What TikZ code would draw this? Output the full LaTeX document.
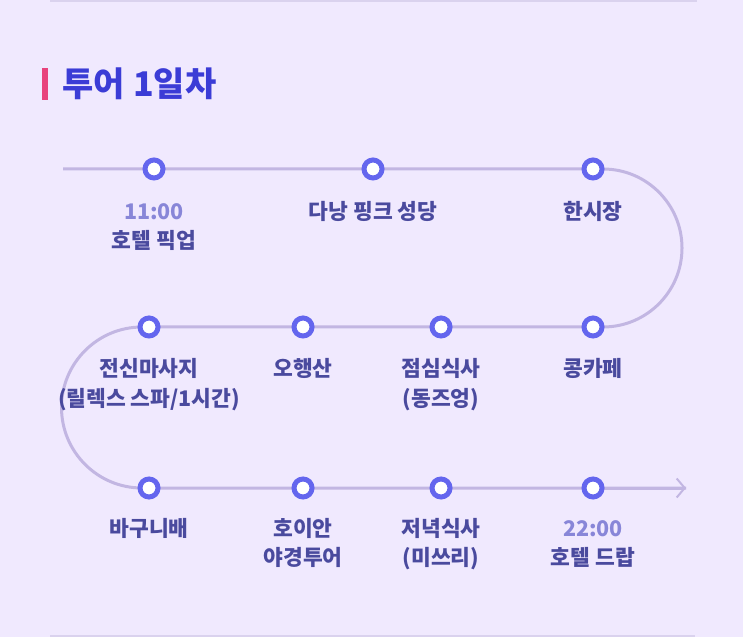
\documentclass[tikz,border=0pt]{standalone}
\usepackage{fontspec}
\setmainfont{Noto Sans CJK KR}
\usetikzlibrary{arrows.meta}
\definecolor{bgc}{HTML}{F0E9FE}
\definecolor{sepc}{HTML}{DAD2EE}
\definecolor{trackc}{HTML}{C2B6E2}
\definecolor{dotc}{HTML}{6466EE}
\definecolor{titlec}{HTML}{3B3CD6}
\definecolor{barc}{HTML}{E8427C}
\definecolor{labc}{HTML}{4A4A9E}
\definecolor{timec}{HTML}{8886D8}
\tikzset{
  track/.style={draw=trackc, line width=3pt},
  dot/.style={circle, draw=dotc, line width=5pt, fill=white, minimum size=18pt, inner sep=0pt},
  lab/.style={anchor=base, align=center, inner sep=0pt, text=labc, font=\fontsize{21.5}{29.5}\selectfont\bfseries},
  sep/.style={draw=sepc, line width=1.5pt}
}
\newcommand{\tm}[1]{{\color{timec}\bfseries\fontsize{21.5}{29.5}\selectfont #1}}
\begin{document}
\begin{tikzpicture}[x=1pt,y=1pt]
\fill[bgc] (0,0) rectangle (743,637);
\useasboundingbox (0,0) rectangle (743,637);
\coordinate (topl) at (50,636.2);
\coordinate (topr) at (697,636.2);
\coordinate (botl) at (50,0.8);
\coordinate (botr) at (695,0.8);
\draw[sep] (topl) -- (topr);
\draw[sep] (botl) -- (botr);
% title
\fill[barc] (42,537) rectangle (48,569);
\node[anchor=west, inner sep=0pt, text=titlec, font=\fontsize{34}{34}\selectfont\bfseries] (title) at (62.5,553) {투어 1일차};
% track coordinates
\coordinate (start) at (63,468);
\coordinate (a1) at (154,468);
\coordinate (a2) at (373,468);
\coordinate (a3) at (593,468);
\coordinate (ra) at (603,468);
\coordinate (b4) at (593,310);
\coordinate (b3) at (441,310);
\coordinate (b2) at (303,310);
\coordinate (b1) at (149,310);
\coordinate (la) at (142,310);
\coordinate (c1) at (149,149);
\coordinate (c2) at (303,149);
\coordinate (c3) at (441,149);
\coordinate (c4) at (593,149);
\coordinate (end) at (686,149);
\draw[track] (start) -- (ra) arc[start angle=90, end angle=-90, radius=79]
  -- (la) arc[start angle=90, end angle=270, radius=80.5] -- (end);
\draw[track, -{Straight Barb[length=8pt,width=19pt,line width=2pt]}] (c4) -- (end);
% dots
\foreach \p in {a1,a2,a3,b1,b2,b3,b4,c1,c2,c3,c4}
  \node[dot] (d\p) at (\p) {};
% labels (base = baseline of last line)
\node[lab] (la1) at (154,388) {\tm{11:00}\\호텔 픽업};
\node[lab] (la2) at (373,417) {다낭 핑크 성당};
\node[lab] (la3) at (593,417) {한시장};
\node[lab] (lb1) at (149,230.5) {전신마사지\\(릴렉스 스파/1시간)};
\node[lab] (lb2) at (303,260) {오행산};
\node[lab] (lb3) at (441,230.5) {점심식사\\(동즈엉)};
\node[lab] (lb4) at (593,260) {콩카페};
\node[lab] (lc1) at (149,101) {바구니배};
\node[lab] (lc2) at (303,71.5) {호이안\\야경투어};
\node[lab] (lc3) at (441,71.5) {저녁식사\\(미쓰리)};
\node[lab] (lc4) at (593,71.5) {\tm{22:00}\\호텔 드랍};
\end{tikzpicture}
\end{document}
